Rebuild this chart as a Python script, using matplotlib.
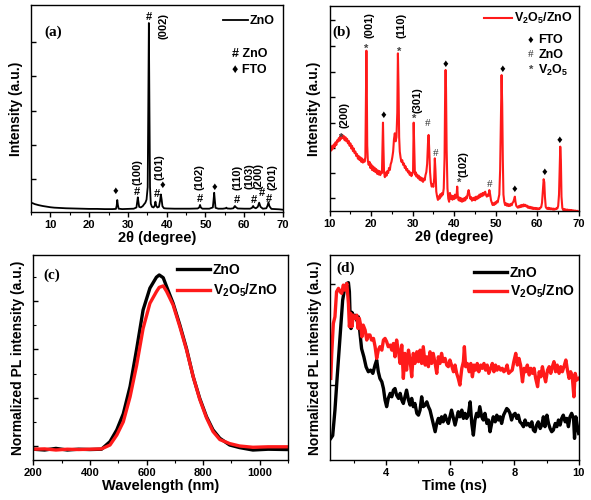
import numpy as np
import matplotlib
matplotlib.use('Agg')
from matplotlib import pyplot as plt

plt.rcParams['font.family'] = ['Liberation Sans', 'DejaVu Sans']
plt.rcParams['font.weight'] = 'bold'
plt.rcParams['axes.labelweight'] = 'bold'
plt.rcParams['mathtext.default'] = 'regular'

V2O5 = r'V$_{2}$O$_{5}$/ZnO'

# (a) XRD of ZnO
xrd_zno_x = [5.0, 5.5, 6, 7, 8, 9, 10, 11, 12, 14, 16, 18, 20, 22, 24, 26, 26.9, 27.1, 27.25, 27.4, 27.6,
             28.5, 30, 31.5, 32.2, 32.4, 32.55, 32.7, 32.9, 33.3, 33.8, 34.2, 34.5, 34.8, 35.1, 35.25, 35.4,
             35.55, 35.7, 35.9, 36.2, 36.6, 36.9, 37.1, 37.3, 37.6, 38.0, 38.3, 38.5, 38.7, 38.9, 39.3, 40,
             42, 44, 46, 48, 48.4, 48.6, 48.8, 49.2, 51, 51.9, 52.1, 52.25, 52.4, 52.6, 53.3, 54.5, 55.2,
             55.4, 55.6, 56.5, 57.2, 57.5, 57.6, 57.8, 58.3, 60, 61.5, 62.0, 62.3, 62.5, 63.0, 63.5, 63.85,
             64.2, 64.8, 65.7, 66.0, 66.25, 66.5, 67, 68, 69, 70]
xrd_zno_y = [45, 42, 38, 33, 29, 26, 23, 21, 20, 18, 17, 16, 15, 15, 14, 14, 15, 30, 58, 35, 16,
             14, 15, 16, 22, 50, 71, 50, 25, 22, 28, 38, 45, 60, 120, 500, 913,
             500, 120, 40, 25, 22, 30, 50, 30, 22, 25, 55, 85, 60, 28, 18, 17,
             16, 16, 16, 17, 22, 34, 22, 16, 16, 22, 60, 93, 60, 20, 16, 16, 18,
             21, 17, 16, 18, 27, 29, 24, 17, 16, 16, 20, 29, 22, 18, 25, 45,
             25, 16, 18, 30, 47, 28, 15, 14, 13, 11]

# (b) XRD of V2O5/ZnO
xrd_v_x = [10.0, 10.2, 10.4, 10.6, 10.8, 11.0, 11.2, 11.4, 11.6, 11.8, 12.0, 12.2, 12.4, 12.6, 12.8, 13.0,
           13.2, 13.4, 13.6, 13.8, 14.0, 14.2, 14.4, 14.6, 14.8, 15.0, 15.2, 15.4, 15.6, 15.8, 16.0, 16.2,
           16.4, 16.6, 16.8, 17.0, 17.2, 17.4, 17.6, 17.8, 18.0, 18.2, 18.4, 18.6, 18.75, 18.85, 18.95,
           19.05, 19.2, 19.4, 19.6, 19.8, 20.0, 20.2, 20.4, 20.6, 20.8, 21.0, 21.2, 21.4, 21.6, 21.8, 22.0,
           22.2, 22.4, 22.6, 22.75, 22.85, 22.95, 23.1, 23.3, 23.5, 23.7, 23.9, 24.1, 24.3, 24.5, 24.7,
           24.9, 25.1, 25.3, 25.5, 25.7, 25.9, 26.1, 26.3, 26.45, 26.6, 26.75, 26.9, 27.1, 27.3, 27.5,
           27.7, 27.9, 28.1, 28.3, 28.5, 28.7, 28.9, 29.1, 29.3, 29.5, 29.7, 29.9, 30.1, 30.25, 30.4,
           30.55, 30.7, 30.9, 31.1, 31.3, 31.5, 31.7, 31.9, 32.1, 32.3, 32.5, 32.7, 32.9, 33.1, 33.3,
           33.5, 33.7, 33.85, 34.0, 34.2, 34.4, 34.6, 34.8, 35.0, 35.2, 35.35, 35.5, 35.7, 35.9, 36.1,
           36.3, 36.5, 36.7, 36.9, 37.1, 37.3, 37.5, 37.7, 37.85, 37.95, 38.05, 38.2, 38.4, 38.6, 38.8,
           39.0, 39.2, 39.4, 39.6, 39.8, 40.0, 40.2, 40.4, 40.6, 40.75, 40.9, 41.1, 41.3, 41.5, 41.7,
           41.9, 42.1, 42.3, 42.5, 42.7, 42.9, 43.1, 43.3, 43.5, 43.7, 43.9, 44.1, 44.3, 44.5, 44.7,
           44.9, 45.1, 45.3, 45.5, 45.7, 45.9, 46.1, 46.3, 46.5, 46.7, 46.9, 47.1, 47.3, 47.5, 47.7,
           47.9, 48.1, 48.3, 48.5, 48.7, 48.9, 49.1, 49.3, 49.5, 49.7, 49.9, 50.1, 50.3, 50.5, 50.7,
           50.9, 51.1, 51.3, 51.45, 51.6, 51.75, 51.9, 52.1, 52.3, 52.5, 52.7, 52.9, 53.1, 53.3, 53.5,
           53.7, 53.9, 54.1, 54.3, 54.5, 54.65, 54.8, 55.0, 55.2, 55.4, 55.6, 55.8, 56.0, 56.2, 56.4,
           56.6, 56.8, 57.0, 57.2, 57.4, 57.6, 57.8, 58.0, 58.2, 58.4, 58.6, 58.8, 59.0, 59.2, 59.4,
           59.6, 59.8, 60.0, 60.2, 60.4, 60.6, 60.8, 61.0, 61.2, 61.4, 61.6, 61.75, 61.9, 62.1, 62.3,
           62.5, 62.7, 62.9, 63.1, 63.3, 63.5, 63.7, 63.9, 64.1, 64.3, 64.5, 64.7, 64.9, 65.1, 65.3,
           65.5, 65.6, 65.75, 65.9, 66.1, 66.3, 66.5, 66.7, 66.9, 67.1, 67.3, 67.5, 67.7, 67.9, 68.1,
           68.3, 68.5, 68.7, 68.9, 69.1, 69.3, 69.5, 69.7, 70.0]
xrd_v_y = [289, 310, 295, 318, 305, 325, 312, 335, 322, 345, 338, 356, 343, 368, 352, 372,
           358, 366, 345, 360, 340, 352, 330, 342, 318, 330, 305, 318, 292, 305, 282, 290,
           268, 278, 255, 268, 248, 262, 240, 256, 236, 250, 240, 262, 560, 782, 600,
           320, 245, 225, 240, 210, 228, 200, 218, 195, 212, 190, 205, 182, 198, 178, 195,
           175, 192, 185, 330, 431, 320, 190, 165, 188, 172, 195, 185, 210, 200, 228,
           240, 262, 290, 350, 379, 340, 360, 480, 769, 600, 360, 290, 260, 240, 248,
           225, 232, 210, 218, 198, 205, 188, 195, 176, 188, 170, 182, 190, 431, 300,
           178, 190, 168, 178, 160, 172, 152, 165, 148, 160, 142, 158, 150, 175, 190,
           230, 330, 371, 300, 190, 140, 119, 130, 118, 160, 257, 200, 95, 70, 54,
           72, 60, 82, 70, 88, 80, 110, 260, 600, 688, 600, 300, 110, 60, 45,
           88, 60, 75, 55, 72, 58, 80, 62, 78, 119, 70, 52, 66, 48, 62,
           45, 60, 48, 64, 52, 70, 62, 85, 102, 80, 60, 68, 50, 62, 54,
           66, 52, 70, 58, 72, 62, 80, 68, 84, 72, 88, 76, 90, 94, 78,
           70, 80, 74, 102, 80, 52, 40, 29, 38, 30, 42, 36, 48, 42, 60,
           80, 200, 450, 663, 520, 250, 80, 45, 29, 38, 26, 35, 24, 32, 25,
           35, 28, 40, 45, 60, 70, 45, 25, 20, 16, 24, 18, 28, 20, 30,
           22, 32, 24, 30, 22, 26, 16, 22, 14, 20, 12, 18, 10, 16, 10,
           15, 9, 14, 8, 13, 10, 16, 18, 40, 100, 155, 140, 70, 20, 13,
           10, 16, 9, 14, 8, 13, 7, 12, 6, 11, 8, 14, 12, 25, 80,
           250, 314, 250, 70, 15, 5, 10, 4, 8, 3, 7, 2, 6, 1, 5,
           0, 4, -1, 3, -2, 2, -2, 1, -3]

# (c) steady-state PL
pl_x = [200, 240, 280, 320, 360, 400, 441, 471, 495, 518, 542, 565, 588, 612, 635, 645, 659, 671, 694,
        718, 741, 765, 788, 812, 835, 859, 894, 929, 976, 1030, 1094]
pl_zno = [-0.02, -0.025, -0.015, -0.025, -0.02, -0.022, -0.02, 0.027, 0.10, 0.20, 0.37, 0.60, 0.845,
          0.98, 1.048, 1.062, 1.045, 0.99, 0.886, 0.75, 0.607, 0.43, 0.296, 0.182, 0.10, 0.048,
          0.006, -0.01, -0.025, -0.02, -0.022]
pl_v = [-0.02, -0.018, -0.025, -0.02, -0.022, -0.02, -0.018, 0.006, 0.068, 0.15, 0.306, 0.50, 0.73,
        0.886, 0.958, 0.985, 0.994, 0.96, 0.876, 0.74, 0.60, 0.43, 0.29, 0.175, 0.09, 0.04,
        0.015, 0.0, -0.008, -0.005, -0.005]

# (d) TRPL
t_zno = [2.28, 2.34, 2.41, 2.48, 2.57, 2.65, 2.72, 2.78, 2.83, 2.86, 2.88, 2.91, 2.94, 2.98, 3.03, 3.09,
         3.14, 3.19, 3.24, 3.31, 3.38, 3.45, 3.52, 3.59, 3.66, 3.71, 3.76, 3.81, 3.87, 3.92, 3.97, 4.02,
         4.07, 4.13, 4.18, 4.23, 4.28, 4.33, 4.39, 4.44, 4.49, 4.54, 4.59, 4.64, 4.70, 4.75, 4.80, 4.85,
         4.90, 4.96, 5.01, 5.06, 5.11, 5.16, 5.22, 5.27, 5.32, 5.37, 5.42, 5.47, 5.53, 5.58, 5.63, 5.68,
         5.73, 5.78, 5.84, 5.89, 5.94, 5.99, 6.04, 6.10, 6.15, 6.20, 6.25, 6.30, 6.36, 6.41, 6.46, 6.51,
         6.56, 6.62, 6.67, 6.72, 6.77, 6.82, 6.87, 6.92, 6.98, 7.03, 7.08, 7.14, 7.19, 7.24, 7.29, 7.34,
         7.40, 7.45, 7.50, 7.55, 7.60, 7.66, 7.71, 7.76, 7.81, 7.86, 7.91, 7.96, 8.02, 8.07, 8.12, 8.17,
         8.22, 8.28, 8.33, 8.38, 8.43, 8.49, 8.54, 8.59, 8.64, 8.69, 8.74, 8.80, 8.85, 8.90, 8.95, 9.01,
         9.06, 9.11, 9.16, 9.21, 9.27, 9.32, 9.37, 9.42, 9.47, 9.52, 9.58, 9.63, 9.68, 9.73, 9.78, 9.84,
         9.87, 9.91, 9.96, 10.0]
i_zno = [0.236, 0.25, 0.376, 0.541, 0.739, 0.92, 0.987, 1.003, 1.007, 0.962, 0.855, 0.78, 0.86, 0.838,
         0.846, 0.82, 0.838, 0.756, 0.68, 0.64, 0.59, 0.566, 0.574, 0.558, 0.6, 0.624, 0.566, 0.533,
         0.516, 0.483, 0.426, 0.393, 0.434, 0.459, 0.442, 0.475, 0.483, 0.45, 0.434, 0.459, 0.426,
         0.409, 0.442, 0.475, 0.426, 0.401, 0.434, 0.393, 0.409, 0.36, 0.351, 0.376, 0.442, 0.393,
         0.401, 0.417, 0.393, 0.376, 0.343, 0.31, 0.269, 0.31, 0.335, 0.31, 0.343, 0.318, 0.351,
         0.327, 0.31, 0.343, 0.376, 0.335, 0.302, 0.335, 0.368, 0.343, 0.376, 0.335, 0.36, 0.335,
         0.351, 0.417, 0.31, 0.252, 0.327, 0.36, 0.343, 0.393, 0.343, 0.327, 0.36, 0.31, 0.327, 0.269,
         0.31, 0.343, 0.318, 0.351, 0.327, 0.343, 0.31, 0.351, 0.368, 0.384, 0.376, 0.36, 0.327,
         0.351, 0.36, 0.335, 0.351, 0.318, 0.31, 0.294, 0.327, 0.302, 0.31, 0.294, 0.318, 0.277,
         0.269, 0.302, 0.318, 0.285, 0.302, 0.343, 0.294, 0.351, 0.31, 0.285, 0.269, 0.277, 0.31,
         0.294, 0.327, 0.302, 0.335, 0.351, 0.318, 0.335, 0.294, 0.343, 0.36, 0.335, 0.236, 0.343,
         0.294, 0.26]
t_v = [2.28, 2.31, 2.36, 2.41, 2.46, 2.52, 2.57, 2.62, 2.67, 2.72, 2.78, 2.83, 2.86, 2.90, 2.94, 2.98,
       3.03, 3.09, 3.13, 3.17, 3.21, 3.25, 3.29, 3.35, 3.40, 3.45, 3.50, 3.55, 3.61, 3.66, 3.71, 3.76,
       3.81, 3.87, 3.92, 3.97, 4.02, 4.07, 4.13, 4.18, 4.23, 4.28, 4.33, 4.39, 4.44, 4.49, 4.54, 4.59,
       4.64, 4.70, 4.75, 4.80, 4.85, 4.90, 4.96, 5.01, 5.06, 5.11, 5.16, 5.22, 5.27, 5.32, 5.37, 5.42,
       5.47, 5.53, 5.58, 5.63, 5.68, 5.73, 5.78, 5.84, 5.89, 5.94, 5.99, 6.04, 6.10, 6.15, 6.20, 6.25,
       6.30, 6.36, 6.41, 6.44, 6.48, 6.53, 6.59, 6.64, 6.69, 6.74, 6.79, 6.84, 6.89, 6.95, 7.0, 7.05,
       7.10, 7.15, 7.20, 7.26, 7.31, 7.36, 7.41, 7.46, 7.51, 7.57, 7.62, 7.67, 7.72, 7.77, 7.82, 7.87,
       7.93, 7.98, 8.04, 8.09, 8.14, 8.19, 8.25, 8.30, 8.35, 8.40, 8.46, 8.51, 8.56, 8.61, 8.66, 8.72,
       8.77, 8.82, 8.87, 8.92, 8.97, 9.03, 9.08, 9.13, 9.18, 9.23, 9.28, 9.33, 9.39, 9.44, 9.49, 9.54,
       9.60, 9.65, 9.70, 9.75, 9.80, 9.85, 9.89, 9.94, 10.0]
i_v = [0.533, 0.657, 0.805, 0.838, 0.962, 0.979, 0.962, 0.954, 0.995, 0.97, 1.003, 0.904, 0.789, 0.855,
       0.789, 0.846, 0.83, 0.846, 0.78, 0.83, 0.797, 0.739, 0.797, 0.772, 0.723, 0.748, 0.748, 0.723,
       0.731, 0.69, 0.632, 0.673, 0.69, 0.673, 0.723, 0.731, 0.715, 0.69, 0.698, 0.673, 0.706, 0.64,
       0.723, 0.665, 0.607, 0.698, 0.533, 0.657, 0.574, 0.673, 0.624, 0.541, 0.657, 0.607, 0.665,
       0.616, 0.673, 0.607, 0.69, 0.599, 0.64, 0.591, 0.665, 0.607, 0.657, 0.607, 0.558, 0.64, 0.607,
       0.657, 0.616, 0.632, 0.599, 0.591, 0.624, 0.599, 0.566, 0.599, 0.558, 0.533, 0.5, 0.583, 0.616,
       0.69, 0.591, 0.607, 0.566, 0.607, 0.541, 0.599, 0.574, 0.607, 0.566, 0.599, 0.583, 0.607, 0.574,
       0.599, 0.558, 0.583, 0.607, 0.566, 0.599, 0.574, 0.591, 0.574, 0.583, 0.566, 0.574, 0.599,
       0.558, 0.566, 0.574, 0.616, 0.657, 0.599, 0.632, 0.599, 0.516, 0.583, 0.566, 0.599, 0.55,
       0.583, 0.558, 0.583, 0.533, 0.492, 0.566, 0.541, 0.591, 0.55, 0.516, 0.574, 0.591, 0.558,
       0.591, 0.616, 0.566, 0.599, 0.558, 0.591, 0.566, 0.591, 0.624, 0.574, 0.533, 0.566, 0.541,
       0.442, 0.558, 0.525, 0.533]

# peak labels
a_marks = [('\u2666', 26.9, 101), ('#', 32.4, 98), ('#', 35.4, 943), ('#', 37.4, 87), ('\u2666', 38.9, 130),
           ('#', 48.6, 63), ('\u2666', 52.4, 122), ('#', 58.2, 58), ('#', 62.5, 58), ('#', 64.5, 90),
           ('#', 66.4, 63)]
a_hkl = [('(100)', 32.5, 193), ('(002)', 39.1, 899), ('(101)', 38.1, 217), ('(102)', 48.4, 169),
         ('(110)', 58.2, 169), ('(103)', 61.4, 172), ('(200)', 63.8, 172), ('(201)', 67.3, 169)]
b_marks = [('*', 12.65, 355), ('*', 18.8, 790), ('*', 26.7, 775), ('\u2666', 22.9, 468), ('*', 30.3, 450),
           ('#', 33.6, 428), ('#', 35.45, 281), ('\u2666', 37.85, 717), ('*', 41.15, 137), ('#', 48.45, 130),
           ('\u2666', 51.6, 691), ('\u2666', 54.5, 107), ('\u2666', 61.7, 189), ('\u2666', 65.5, 346)]
b_hkl = [('(200)', 13.6, 468), ('(001)', 19.6, 905), ('(110)', 27.4, 905), ('(301)', 31.2, 539),
         ('(102)', 42.3, 229)]


def style(ax):
    for s in ax.spines.values():
        s.set_linewidth(1.0)
    ax.tick_params(axis='y', which='both', direction='in', labelleft=False)
    ax.tick_params(axis='x', which='both', direction='out', labelsize=8, pad=2)
    ax.tick_params(which='major', length=3.5, width=1.0)
    ax.tick_params(which='minor', length=2, width=0.8)
    for lab in ax.get_xticklabels():
        lab.set_fontweight('bold')


fig = plt.figure(figsize=(5.91, 5.0), dpi=100)

# (a)
ax = fig.add_axes([31 / 591, 1 - 212 / 500, 252 / 591, 207 / 500])
ax.plot(xrd_zno_x, xrd_zno_y, color='black', lw=1.3, label='ZnO')
ax.set_xlim(5, 70)
ax.set_ylim(0, 1000)
ax.set_xticks(np.arange(10, 71, 10))
ax.set_xticks(np.arange(5, 71, 5), minor=True)
ax.set_yticks([158, 324, 490, 656, 822])
style(ax)
ax.set_xlabel('2θ (degree)', fontsize=10.5, labelpad=1)
ax.set_ylabel('Intensity (a.u.)', fontsize=10, labelpad=6)
for s, x, y in a_marks:
    ax.text(x, y, s, ha='center', va='center', fontsize=8, family=['Liberation Sans', 'DejaVu Sans'])
for s, x, y in a_hkl:
    ax.text(x, y, s, ha='center', va='center', rotation=90, fontsize=8)
ax.legend(loc='upper right', bbox_to_anchor=(0.965, 0.95), frameon=False, fontsize=9,
          handlelength=2.0, handletextpad=0.1, borderpad=0, borderaxespad=0)
ax.text(0.798, 0.763, '# ZnO', transform=ax.transAxes, fontsize=9, va='center')
ax.text(0.798, 0.686, '\u2666 FTO', transform=ax.transAxes, fontsize=9, va='center',
        family=['Liberation Sans', 'DejaVu Sans'])
ax.text(0.052, 0.87, '(a)', transform=ax.transAxes, fontsize=11, va='center',
        family='Liberation Serif', fontweight='bold')

# (b)
ax = fig.add_axes([329.7 / 591, 1 - 211 / 500, 248.8 / 591, 205 / 500])
ax.plot(xrd_v_x, xrd_v_y, color='#ff1a1a', lw=1.5, label=V2O5)
ax.set_xlim(10, 70)
ax.set_ylim(0, 1000)
ax.set_xticks(np.arange(10, 71, 10))
ax.set_xticks(np.arange(10, 71, 5), minor=True)
ax.set_yticks([62, 184, 309, 431, 558, 680, 805, 932])
style(ax)
ax.set_xlabel('2θ (degree)', fontsize=10.5, labelpad=1)
ax.set_ylabel('Intensity (a.u.)', fontsize=10, labelpad=6)
for s, x, y in b_marks:
    if s == '#':
        ax.text(x, y, s, ha='center', va='center', fontsize=8, family='Liberation Serif',
                fontweight='normal', color='#333333')
    elif s == '*':
        ax.text(x, y, s, ha='center', va='center', fontsize=8, color='#444444')
    else:
        ax.text(x, y, s, ha='center', va='center', fontsize=8, family=['Liberation Sans', 'DejaVu Sans'])
for s, x, y in b_hkl:
    ax.text(x, y, s, ha='center', va='center', rotation=90, fontsize=8)
ax.legend(loc='upper right', bbox_to_anchor=(0.975, 0.975), frameon=False, fontsize=9,
          handlelength=2.3, handletextpad=0.1, borderpad=0, borderaxespad=0)
ax.text(0.808, 0.834, '\u2666', transform=ax.transAxes, fontsize=8, va='center', ha='center',
        family=['Liberation Sans', 'DejaVu Sans'])
ax.text(0.838, 0.834, 'FTO', transform=ax.transAxes, fontsize=9, va='center')
ax.text(0.808, 0.761, '#', transform=ax.transAxes, fontsize=8, va='center', ha='center',
        family='Liberation Serif', fontweight='normal', color='#333333')
ax.text(0.838, 0.761, 'ZnO', transform=ax.transAxes, fontsize=9, va='center')
ax.text(0.808, 0.688, '*', transform=ax.transAxes, fontsize=8, va='center', ha='center', color='#444444')
ax.text(0.838, 0.688, r'V$_{2}$O$_{5}$', transform=ax.transAxes, fontsize=9, va='center')
ax.text(0.012, 0.87, '(b)', transform=ax.transAxes, fontsize=11, va='center',
        family='Liberation Serif', fontweight='bold')

# (c)
ax = fig.add_axes([33.3 / 591, 1 - 460 / 500, 254.7 / 591, 205 / 500])
ax.plot(pl_x, pl_zno, color='black', lw=2.4, label='ZnO')
ax.plot(pl_x, pl_v, color='#ff1a1a', lw=2.4, label=V2O5)
ax.set_xlim(200, 1100)
ax.set_ylim(-0.087, 1.186)
ax.set_xticks(np.arange(200, 1001, 200))
ax.set_xticks(np.arange(200, 1101, 100), minor=True)
ax.set_yticks([0, 0.3, 0.6, 0.9])
ax.set_yticks([0.15, 0.45, 0.75, 1.05], minor=True)
style(ax)
ax.set_xlabel('Wavelength (nm)', fontsize=10.5, labelpad=1)
ax.set_ylabel('Normalized PL intensity (a.u.)', fontsize=10, labelpad=6)
ax.legend(loc='upper right', bbox_to_anchor=(0.96, 0.96), frameon=False, fontsize=10,
          handlelength=2.4, handletextpad=0.2, labelspacing=0.3, borderpad=0, borderaxespad=0)
ax.text(0.038, 0.902, '(c)', transform=ax.transAxes, fontsize=11, va='center',
        family='Liberation Serif', fontweight='bold')

# (d)
ax = fig.add_axes([330 / 591, 1 - 460 / 500, 248.7 / 591, 205 / 500])
ax.plot(t_zno, i_zno, color='black', lw=2.4, label='ZnO')
ax.plot(t_v, i_v, color='#ff1a1a', lw=2.4, label=V2O5)
ax.set_xlim(2.256, 10)
ax.set_ylim(0.129, 1.144)
ax.set_xticks([4, 6, 8, 10])
ax.set_xticks([3, 5, 7, 9], minor=True)
ax.set_yticks([0.5, 1.0])
style(ax)
ax.set_xlabel('Time (ns)', fontsize=10.5, labelpad=1)
ax.set_ylabel('Normalized PL intensity (a.u.)', fontsize=10, labelpad=6)
ax.legend(loc='upper right', bbox_to_anchor=(0.985, 0.945), frameon=False, fontsize=10,
          handlelength=2.4, handletextpad=0.2, labelspacing=0.2, borderpad=0, borderaxespad=0)
ax.text(0.027, 0.937, '(d)', transform=ax.transAxes, fontsize=11, va='center',
        family='Liberation Serif', fontweight='bold')

fig.savefig('out.png', dpi=100)
